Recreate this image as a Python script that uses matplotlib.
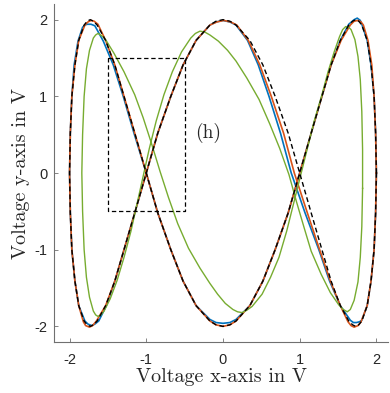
import matplotlib
matplotlib.use("Agg")
import matplotlib.pyplot as plt

# reference trajectory (dashed), sampled every 5 degrees of phase,
# with extra samples around each turning point
ref_x = [2.00, 1.99, 1.97, 1.93, 1.88, 1.81,
         1.77, 1.73, 1.69,
         1.64, 1.53, 1.41, 1.29, 1.15, 1.00, 0.85, 0.68, 0.52, 0.35, 0.17,
         0.09, 0.00, -0.09,
         -0.17, -0.35, -0.52, -0.68, -0.85, -1.00, -1.15, -1.29, -1.41, -1.53, -1.64,
         -1.69, -1.73, -1.77,
         -1.81, -1.88, -1.93, -1.97, -1.99, -2.00, -1.99, -1.97, -1.93, -1.88, -1.81,
         -1.77, -1.73, -1.69,
         -1.64, -1.53, -1.41, -1.29, -1.15, -1.00, -0.85, -0.68, -0.52, -0.35, -0.17,
         -0.09, 0.00, 0.09,
         0.17, 0.35, 0.52, 0.68, 0.85, 1.00, 1.15, 1.29, 1.41, 1.53, 1.64,
         1.69, 1.73, 1.77,
         1.81, 1.88, 1.93, 1.97, 1.99, 2.00]
ref_y = [0.00, 0.52, 1.00, 1.41, 1.73, 1.93,
         1.98, 2.00, 1.98,
         1.93, 1.73, 1.41, 1.00, 0.52, 0.00, -0.52, -1.00, -1.41, -1.73, -1.93,
         -1.98, -2.00, -1.98,
         -1.93, -1.73, -1.41, -1.00, -0.52, 0.00, 0.52, 1.00, 1.41, 1.73, 1.93,
         1.98, 2.00, 1.98,
         1.93, 1.73, 1.41, 1.00, 0.52, 0.00, -0.52, -1.00, -1.41, -1.73, -1.93,
         -1.98, -2.00, -1.98,
         -1.93, -1.73, -1.41, -1.00, -0.52, 0.00, 0.52, 1.00, 1.41, 1.73, 1.93,
         1.98, 2.00, 1.98,
         1.93, 1.73, 1.41, 1.00, 0.52, 0.00, -0.52, -1.00, -1.41, -1.73, -1.93,
         -1.98, -2.00, -1.98,
         -1.93, -1.73, -1.41, -1.00, -0.52, 0.00]

# measured trajectory 1 (blue)
blue_x = [2.00, 1.99, 1.97, 1.93, 1.88, 1.81,
          1.79, 1.75, 1.71,
          1.64, 1.53, 1.41, 1.29, 1.15, 1.00, 0.85, 0.68, 0.52, 0.35, 0.17,
          0.09, 0.00, -0.09,
          -0.17, -0.35, -0.52, -0.68, -0.85, -1.00, -1.16, -1.30, -1.43, -1.56, -1.67,
          -1.72, -1.77, -1.80,
          -1.83, -1.89, -1.94, -1.97, -1.99, -2.00, -1.99, -1.97, -1.93, -1.88, -1.80,
          -1.76, -1.71, -1.67,
          -1.62, -1.52, -1.41, -1.29, -1.15, -1.00, -0.85, -0.68, -0.52, -0.35, -0.17,
          -0.09, 0.00, 0.09,
          0.17, 0.32, 0.46, 0.60, 0.75, 0.89, 1.07, 1.25, 1.39, 1.53, 1.66,
          1.70, 1.74, 1.78,
          1.81, 1.88, 1.93, 1.97, 1.99, 2.00]
blue_y = [0.00, 0.52, 1.00, 1.41, 1.73, 1.94,
          1.99, 2.02, 2.00,
          1.94, 1.73, 1.41, 1.00, 0.52, 0.00, -0.52, -1.00, -1.41, -1.73, -1.91,
          -1.95, -1.96, -1.95,
          -1.91, -1.73, -1.41, -1.00, -0.52, 0.00, 0.52, 1.00, 1.41, 1.72, 1.92,
          1.94, 1.94, 1.93,
          1.90, 1.72, 1.41, 1.00, 0.52, 0.00, -0.52, -1.00, -1.41, -1.73, -1.93,
          -1.97, -1.99, -1.97,
          -1.93, -1.73, -1.41, -1.00, -0.52, 0.00, 0.52, 1.00, 1.41, 1.73, 1.93,
          1.97, 1.99, 1.97,
          1.93, 1.73, 1.41, 1.00, 0.52, 0.00, -0.52, -1.00, -1.41, -1.73, -1.92,
          -1.95, -1.95, -1.94,
          -1.92, -1.73, -1.41, -1.00, -0.52, 0.00]

# measured trajectory 2 (orange)
orange_x = [2.00, 1.99, 1.97, 1.94, 1.89, 1.83,
            1.80, 1.76, 1.71,
            1.66, 1.54, 1.41, 1.29, 1.15, 1.00, 0.85, 0.68, 0.52, 0.35, 0.17,
            0.09, 0.00, -0.09,
            -0.17, -0.35, -0.52, -0.68, -0.85, -1.00, -1.15, -1.29, -1.41, -1.53, -1.63,
            -1.68, -1.72, -1.76,
            -1.80, -1.88, -1.93, -1.97, -1.99, -2.00, -1.99, -1.97, -1.93, -1.88, -1.82,
            -1.79, -1.74, -1.70,
            -1.65, -1.53, -1.41, -1.29, -1.15, -1.00, -0.85, -0.68, -0.52, -0.35, -0.17,
            -0.08, 0.01, 0.10,
            0.18, 0.33, 0.48, 0.63, 0.79, 0.93, 1.10, 1.26, 1.40, 1.53, 1.63,
            1.67, 1.71, 1.76,
            1.80, 1.88, 1.93, 1.97, 1.99, 2.00]
orange_y = [0.00, 0.52, 1.00, 1.41, 1.73, 1.93,
            1.97, 1.99, 1.98,
            1.93, 1.73, 1.41, 1.00, 0.52, 0.00, -0.52, -1.00, -1.41, -1.73, -1.93,
            -1.98, -2.00, -1.98,
            -1.93, -1.73, -1.41, -1.00, -0.52, 0.00, 0.52, 1.00, 1.41, 1.73, 1.94,
            1.98, 1.99, 1.97,
            1.93, 1.73, 1.41, 1.00, 0.52, 0.00, -0.52, -1.00, -1.41, -1.73, -1.94,
            -1.99, -2.01, -1.99,
            -1.93, -1.73, -1.41, -1.00, -0.52, 0.00, 0.52, 1.00, 1.41, 1.73, 1.93,
            1.97, 1.99, 1.97,
            1.93, 1.73, 1.41, 1.00, 0.52, 0.00, -0.52, -1.00, -1.41, -1.73, -1.94,
            -1.99, -2.01, -1.99,
            -1.94, -1.73, -1.41, -1.00, -0.52, 0.00]

# measured trajectory 3 (green), phase shifted and slightly smaller
green_x = [1.82, 1.82, 1.81, 1.79, 1.76, 1.72, 1.67, 1.64, 1.60, 1.56,
           1.52, 1.45, 1.37, 1.29, 1.19, 1.10, 1.01, 0.92, 0.83, 0.73, 0.62, 0.51, 0.38, 0.31, 0.25, 0.19,
           0.13, 0.03, -0.07, -0.17, -0.30, -0.45, -0.59, -0.71, -0.82, -0.93, -1.04, -1.15,
           -1.29, -1.42, -1.53, -1.58, -1.63, -1.66,
           -1.69, -1.74, -1.78, -1.81, -1.83, -1.84, -1.83, -1.81, -1.78, -1.74, -1.69, -1.66, -1.63, -1.59,
           -1.55, -1.47, -1.38, -1.29, -1.20, -1.12, -1.04, -0.96, -0.87, -0.77, -0.66, -0.54,
           -0.42, -0.36, -0.30, -0.24,
           -0.17, -0.06, 0.06, 0.17, 0.31, 0.47, 0.61, 0.74, 0.86, 0.96, 1.06, 1.15,
           1.28, 1.40, 1.51, 1.57, 1.62,
           1.66, 1.71, 1.76, 1.79, 1.81, 1.82]
green_y = [-0.20, 0.30, 0.80, 1.22, 1.52, 1.74, 1.87, 1.90, 1.91, 1.87,
           1.78, 1.58, 1.32, 1.02, 0.68, 0.32, -0.04, -0.40, -0.76, -1.10, -1.36, -1.58, -1.74, -1.79, -1.82, -1.81,
           -1.78, -1.70, -1.58, -1.44, -1.24, -0.98, -0.66, -0.32, 0.02, 0.38, 0.72, 1.02,
           1.32, 1.56, 1.74, 1.79, 1.82, 1.80,
           1.76, 1.60, 1.36, 1.00, 0.50, 0.00, -0.50, -1.00, -1.36, -1.62, -1.80, -1.85, -1.87, -1.85,
           -1.80, -1.64, -1.40, -1.10, -0.76, -0.40, -0.04, 0.32, 0.68, 1.02, 1.32, 1.58,
           1.76, 1.82, 1.85, 1.84,
           1.80, 1.72, 1.60, 1.46, 1.24, 0.96, 0.64, 0.32, -0.02, -0.38, -0.72, -1.02,
           -1.32, -1.56, -1.72, -1.78, -1.81,
           -1.78, -1.66, -1.42, -1.10, -0.70, -0.20]

# zoom window
box_x = [-1.5, -0.5, -0.5, -1.5, -1.5]
box_y = [1.5, 1.5, -0.5, -0.5, 1.5]

ticks = [-2, -1, 0, 1, 2]
tick_labels = ['-2', '-1', '0', '1', '2']

serif = 'cmr10'
dash = (0, (3.5, 2.2))

fig = plt.figure(figsize=(3.9, 3.93), dpi=100)
ax = fig.add_axes([0.139, 0.1305, 0.8556, 0.8585])

ax.plot(blue_x, blue_y, color='#0072BD', lw=1.2)
ax.plot(orange_x, orange_y, color='#D95319', lw=1.2)
ax.plot(green_x, green_y, color='#77AC30', lw=1.0)
ax.plot(ref_x, ref_y, color='black', lw=1.0, linestyle=dash)
ax.plot(box_x, box_y, color='black', lw=0.9, linestyle=dash)
ax.text(-0.2, 0.52, '(h)', fontfamily=serif, fontsize=14, color='#262626',
        ha='center', va='center')

ax.set_xlim(-2.2, 2.15)
ax.set_ylim(-2.2, 2.2)
ax.set_xticks(ticks)
ax.set_xticklabels(tick_labels, fontfamily='Liberation Sans', fontsize=10.5, color='#262626')
ax.set_yticks(ticks)
ax.set_yticklabels(tick_labels, fontfamily='Liberation Sans', fontsize=10.5, color='#262626')
ax.tick_params(direction='in', length=3, width=0.6, color='#707070')
ax.tick_params(axis='x', pad=8)
ax.tick_params(axis='y', pad=5)

for side in ['top', 'right']:
    ax.spines[side].set_visible(False)
for side in ['left', 'bottom']:
    ax.spines[side].set_color('#707070')
    ax.spines[side].set_linewidth(0.8)

ax.set_xlabel('Voltage x-axis in V', fontfamily=serif, fontsize=14.5, color='#262626', labelpad=1)
ax.set_ylabel('Voltage y-axis in V', fontfamily=serif, fontsize=14.5, color='#262626', labelpad=3)

fig.savefig('out.png', dpi=100)
